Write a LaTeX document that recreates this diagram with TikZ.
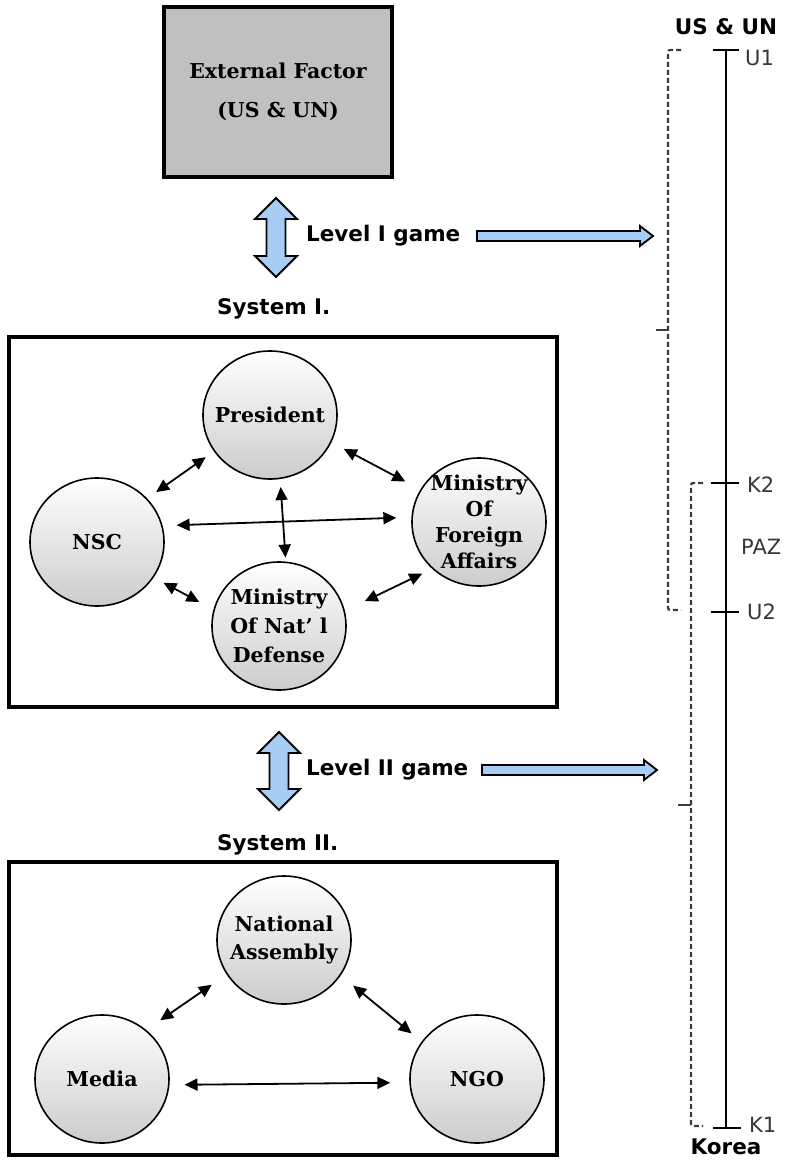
\documentclass[tikz,border=0pt]{standalone}
\usepackage{fontspec}
\setsansfont{DejaVu Sans}
\newfontfamily\dvserif{DejaVu Serif}
\usetikzlibrary{arrows.meta,shapes.geometric}
\definecolor{boxgray}{RGB}{192,192,192}
\definecolor{arrowblue}{RGB}{166,206,245}
\definecolor{bracketgray}{RGB}{60,60,60}
\definecolor{labelgray}{RGB}{55,55,55}

\begin{document}
\begin{tikzpicture}[x=1pt,y=-1pt,
  actor/.style={ellipse, draw, line width=1.6pt, minimum width=134pt, minimum height=128pt,
    inner xsep=-25pt, inner ysep=-25pt, top color=white, bottom color=black!20, align=center,
    font=\dvserif\bfseries\fontsize{20.5}{28}\selectfont},
  sysbox/.style={draw, line width=3.4pt, minimum width=548pt, inner sep=0pt},
  extbox/.style={draw, line width=3.2pt, fill=boxgray, minimum width=228pt, minimum height=170pt,
    align=center, font=\dvserif\bfseries\fontsize{20.5}{39}\selectfont},
  headline/.style={font=\sffamily\bfseries\fontsize{21.5}{24}\selectfont, inner sep=0pt},
  tickname/.style={font=\sffamily\fontsize{21}{24}\selectfont, text=labelgray, inner sep=0pt},
  conn/.style={line width=1.8pt, arrows={Triangle[length=13pt,width=12pt]-Triangle[length=13pt,width=12pt]}},
  blockarrow/.style={draw, line width=1.8pt, fill=arrowblue, line join=miter},
  bracket/.style={draw=bracketgray, line width=2.2pt, dash pattern=on 5pt off 3pt, rounded corners=2pt},
  axisline/.style={line width=2.2pt},
]
\useasboundingbox (0,0) rectangle (792,1162);

% ---- external factor ----
\node[extbox] (ext) at (278,92) {External Factor\\(US \& UN)};

% ---- level I game ----
\draw[blockarrow] (276,198) -- (297,219) -- (285.5,219) -- (285.5,256) -- (297,256) -- (276,277)
  -- (255,256) -- (266.5,256) -- (266.5,219) -- (255,219) -- cycle;
\node[headline, anchor=west] (lv1) at (306,236) {Level I game};
\draw[blockarrow] (477,231) -- (640,231) -- (640,226) -- (653,236) -- (640,246) -- (640,241) -- (477,241) -- cycle;

% ---- system I ----
\node[headline, anchor=west] (sys1l) at (217,309) {System I.};
\node[sysbox, minimum height=370pt] (sys1) at (283,522) {};

\node[actor] (pres) at (270,415) {President};
\node[actor] (nsc)  at (97,542)  {NSC};
\node[actor, font=\dvserif\bfseries\fontsize{20.5}{26}\selectfont] (mofa) at (479,522)
  {Ministry\\Of\\Foreign\\Affairs};
\node[actor, font=\dvserif\bfseries\fontsize{20.5}{29}\selectfont] (mond) at (279,626)
  {Ministry\\Of Nat’ l\\Defense};

\draw[conn, shorten <=10pt, shorten >=11pt] (pres.213) -- (nsc.41);
\draw[conn, shorten <=14pt, shorten >=17pt] (pres.336) -- (mofa.151);
\draw[conn, shorten <=14pt, shorten >=15pt] (nsc.14) -- (mofa.176);
\draw[conn, shorten <=8pt, shorten >=4pt] (pres.279) -- (mond.84);
\draw[conn, shorten <=11pt, shorten >=16pt] (nsc.328) -- (mond.166);
\draw[conn, shorten <=22pt, shorten >=11pt] (mond.13) -- (mofa.225);

% ---- level II game ----
\draw[blockarrow] (279,732) -- (300,753) -- (288.5,753) -- (288.5,789) -- (300,789) -- (279,810)
  -- (258,789) -- (269.5,789) -- (269.5,753) -- (258,753) -- cycle;
\node[headline, anchor=west] (lv2) at (306,770) {Level II game};
\draw[blockarrow] (482,765) -- (644,765) -- (644,760) -- (657,770) -- (644,780) -- (644,775) -- (482,775) -- cycle;

% ---- system II ----
\node[headline, anchor=west] (sys2l) at (217,845) {System II.};
\node[sysbox, minimum height=293pt] (sys2) at (283,1008.5) {};

\node[actor] (na)    at (284,940)  {National\\Assembly};
\node[actor] (media) at (102,1079) {Media};
\node[actor] (ngo)   at (477,1079) {NGO};

\draw[conn, shorten <=17pt, shorten >=18pt] (media.48) -- (na.211);
\draw[conn, shorten <=16pt, shorten >=13pt] (na.328) -- (ngo.146);
\draw[conn, shorten <=15pt, shorten >=19pt] (media.355) -- (ngo.183);

% ---- bargaining scale ----
\coordinate (u1) at (726,50);
\coordinate (k2) at (726,483);
\coordinate (u2) at (726,612);
\coordinate (k1) at (726,1128);

\node[headline] (usun) at (726,27) {US \& UN};
\node[headline] (korea) at (726,1147) {Korea};

\draw[axisline] (u1) -- (k1);
\draw[axisline] ([xshift=-13pt]u1) -- ([xshift=13pt]u1);
\draw[axisline] ([xshift=-15pt]k2) -- ([xshift=13pt]k2);
\draw[axisline] ([xshift=-15pt]u2) -- ([xshift=13pt]u2);
\draw[axisline] ([xshift=-13pt]k1) -- ([xshift=15pt]k1);

\node[tickname, anchor=west] (u1l) at (745,58) {U1};
\node[tickname, anchor=west] (k2l) at (747,485) {K2};
\node[tickname, anchor=west] (pazl) at (741,547) {PAZ};
\node[tickname, anchor=west] (u2l) at (747,612) {U2};
\node[tickname, anchor=west] (k1l) at (749,1125) {K1};

% level I range bracket
\draw[bracket] (681,50) -- (668,50) -- (668,610) -- (681,610);
\draw[bracketgray, line width=2.2pt] (656,330) -- (668,330);
% level II range bracket
\draw[bracket] (703,483) -- (691,483) -- (691,1126) -- (703,1126);
\draw[bracketgray, line width=2.2pt] (678,805) -- (691,805);

\end{tikzpicture}
\end{document}
